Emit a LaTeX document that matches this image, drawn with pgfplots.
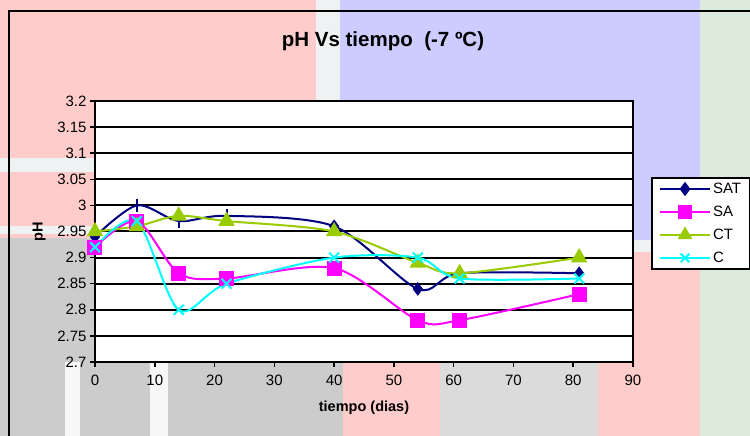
\documentclass[border=0pt]{standalone}
\usepackage{fontspec}
\setmainfont{Liberation Sans}
\usepackage{pgfplots}
\pgfplotsset{compat=1.18}
\definecolor{satc}{HTML}{000080}
\definecolor{sac}{HTML}{FF00FF}
\definecolor{ctc}{HTML}{99CC00}
\definecolor{cc}{HTML}{00FFFF}
\definecolor{bgpink}{HTML}{FFCCCC}
\definecolor{bgblue}{HTML}{CCCCFF}
\definecolor{bggray}{HTML}{CCCCCC}
\definecolor{bggreen}{HTML}{DCEBDC}
\definecolor{bgwhite}{HTML}{EEF2F2}

\begin{document}
\begin{tikzpicture}
\useasboundingbox (0,0) rectangle (750pt,436pt);
% blurred picture behind the chart, in pixel coordinates from the top
\begin{scope}[x=1pt,y=1pt,shift={(0,436pt)},yscale=-1]
  \fill[bgwhite] (0,0) rectangle (750,436);
  \fill[bgpink] (0,0) rectangle (316,238);
  \fill[bgwhite] (316,0) rectangle (340,101);
  \fill[bgblue] (340,0) rectangle (700,240);
  \fill[bggreen] (700,0) rectangle (750,436);
  \fill[bgpink] (598,252) rectangle (700,436);
  \fill[bggray] (0,238) rectangle (343,436);
  \fill[bgpink] (343,362) rectangle (440,436);
  \fill[bggray!70!white] (440,362) rectangle (598,436);
  \fill[bgwhite] (0,158) rectangle (95,172);
  \fill[bgwhite] (0,226) rectangle (95,234);
  \fill[white!85!bggray] (65,362) rectangle (80,436);
  \fill[white!85!bggray] (150,362) rectangle (168,436);
  \draw[black,line width=2pt] (9,437) -- (9,11) -- (751,11);
\end{scope}
\node[font=\bfseries\fontsize{20.5}{24}\selectfont,anchor=base] at (383pt,389pt) {pH Vs tiempo\ \ (-7 ºC)};

\begin{axis}[
  at={(95pt,74pt)}, anchor=south west,
  scale only axis, width=538pt, height=261pt,
  xmin=0, xmax=90, ymin=2.7, ymax=3.2,
  xtick={0,10,...,90},
  ytick={2.7,2.75,2.8,2.85,2.9,2.95,3,3.05,3.1,3.15,3.2},
  yticklabels={2.7,2.75,2.8,2.85,2.9,2.95,3,3.05,3.1,3.15,3.2},
  xtick pos=left, ytick pos=left,
  tick align=outside, major tick length=5pt,
  tick style={black,line width=1.5pt},
  ymajorgrids, grid style={black,line width=2pt},
  axis line style={black,line width=2pt},
  axis background/.style={fill=white},
  ticklabel style={font=\fontsize{15}{17}\selectfont},
  xticklabel style={yshift=-4pt},
  /pgf/number format/assume math mode=true,
  xlabel={tiempo (dias)}, ylabel={pH},
  label style={font=\bfseries\fontsize{14.5}{17}\selectfont},
  xlabel style={at={(axis description cs:0.5,-0.176)},anchor=center},
  ylabel style={at={(axis description cs:-0.104,0.5)},anchor=center},
  clip=false,
  legend style={at={(axis description cs:1.0335,0.7088)},anchor=north west,
    draw=black,line width=2pt,fill=white,
    font=\fontsize{15}{17}\selectfont,
    inner xsep=7pt,inner ysep=3pt,row sep=7pt},
  legend cell align=left,
  legend image code/.code={\draw[mark repeat=2,mark phase=2,#1] plot coordinates {(0pt,0pt) (25pt,0pt) (50pt,0pt)};},
]
% SAT
\addplot[satc,line width=2pt,smooth,forget plot] coordinates {(0,2.94)(7,3.0)(14,2.97)(22,2.98)(40,2.96)(54,2.84)(61,2.87)(81,2.87)};
\addplot[satc,only marks,mark=|,mark size=6.5pt,mark options={line width=2pt},forget plot] coordinates {(7,3.0)(14,2.97)(22,2.98)};
\addplot[satc,only marks,mark=diamond*,mark size=6.5pt,forget plot] coordinates {(0,2.94)(40,2.96)(54,2.84)(61,2.87)(81,2.87)};
% SA
\addplot[sac,line width=2pt,smooth,mark=square*,mark size=6.5pt,forget plot] coordinates {(0,2.92)(7,2.97)(14,2.87)(22,2.86)(40,2.88)(54,2.78)(61,2.78)(81,2.83)};
% CT
\addplot[ctc,line width=2pt,smooth,mark=triangle*,mark size=7.5pt,forget plot] coordinates {(0,2.95)(7,2.96)(14,2.98)(22,2.97)(40,2.95)(54,2.89)(61,2.87)(81,2.90)};
% C
\addplot[cc,line width=2pt,smooth,mark=x,mark size=7pt,forget plot] coordinates {(0,2.92)(7,2.97)(14,2.80)(22,2.85)(40,2.90)(54,2.90)(61,2.86)(81,2.86)};

\addlegendimage{satc,line width=2pt,mark=diamond*,mark size=5.5pt}
\addlegendentry{SAT}
\addlegendimage{sac,line width=2pt,mark=square*,mark size=6pt}
\addlegendentry{SA}
\addlegendimage{ctc,line width=2pt,mark=triangle*,mark size=6.5pt}
\addlegendentry{CT}
\addlegendimage{cc,line width=2pt,mark=x,mark size=6pt}
\addlegendentry{C}
\end{axis}
\end{tikzpicture}
\end{document}
